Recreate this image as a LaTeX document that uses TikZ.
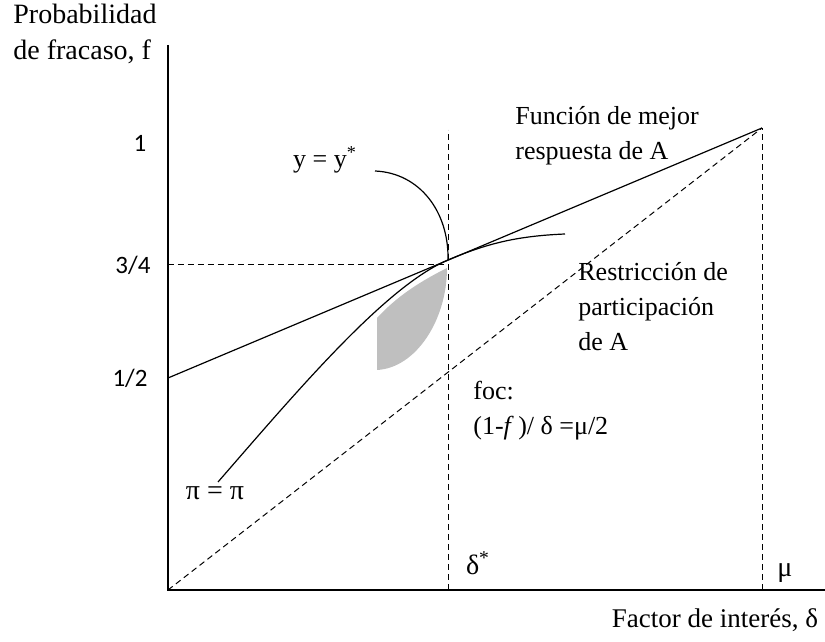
\documentclass[tikz,border=0pt]{standalone}
\usepackage{fontspec}
\setmainfont{Liberation Serif}
\newfontfamily\numfont{Carlito}
\usetikzlibrary{positioning}

\tikzset{
  axisline/.style={line width=1pt},
  curveline/.style={line width=0.6pt},
  guideline/.style={line width=0.5pt, dash pattern=on 3pt off 2pt},
  serifnote/.style={font=\fontsize{13}{17.5}\selectfont, align=left, inner sep=0pt},
  ticknum/.style={font=\numfont\fontsize{12.5}{14}\selectfont, inner sep=0pt}
}

\begin{document}
\begin{tikzpicture}[x=0.5pt,y=0.5pt]
\useasboundingbox (-168,-52) rectangle (657,590);

% points of the diagram
\coordinate (O) at (0,0);
\coordinate (H) at (0,212);
\coordinate (Q) at (0,325);
\coordinate (M) at (594,462);
\coordinate (T) at (280,330);
\coordinate (Ds) at (280,0);
\coordinate (Mu) at (594,0);

% shaded set
\fill[gray!50] (209,220) .. controls (248,222) and (279,270) .. (279,322)
  .. controls (255,310) and (230,295) .. (209,272) -- cycle;

% axes
\draw[axisline] (0,545) -- (O) -- (657,0);

% guides
\draw[guideline] (O) -- (M);
\draw[guideline] (Ds) -- (280,460);
\draw[guideline] (Mu) -- (M);
\draw[guideline] (Q) -- (280,325);

% best response of A
\draw[curveline] (H) -- (M);

% y = y* and pi = pi
\draw[curveline] (207,419) .. controls (252,417) and (281,378) .. (T);
\draw[curveline] (50,108) .. controls (130,200) and (218,304) .. (T)
  .. controls (320,347) and (350,354) .. (397,356);

% labels
\node[serifnote, font=\fontsize{14}{18}\selectfont, anchor=north west] (ylab) at (-155,586) {Probabilidad\\de fracaso, f};
\node[serifnote, font=\fontsize{13.5}{17}\selectfont] (xlab) at (547,-30) {Factor de interés, δ};
\node[ticknum] (one) at (-28,447) {1};
\node[ticknum] (threeq) at (-35,325) {3/4};
\node[ticknum] (half) at (-38,212) {1/2};
\node[serifnote] (ystar) at (157,430) {y = y\textsuperscript{*}};
\node[serifnote, font=\fontsize{14}{17}\selectfont] (pipi) at (47,97) {π = π};
\node[serifnote, anchor=north west] (best) at (347,484) {Función de mejor\\respuesta de A};
\node[serifnote, anchor=north west] (part) at (410,328) {Restricción de\\participación\\de A};
\node[serifnote, anchor=north west] (foc) at (305,209) {foc:\\(1-\textit{f}\,)/ δ =μ/2};
\node[serifnote, font=\fontsize{14}{17}\selectfont] (dstar) at (310,27) {δ\textsuperscript{*}};
\node[serifnote, font=\fontsize{14}{17}\selectfont] (mu) at (617,17) {μ};
\end{tikzpicture}
\end{document}
